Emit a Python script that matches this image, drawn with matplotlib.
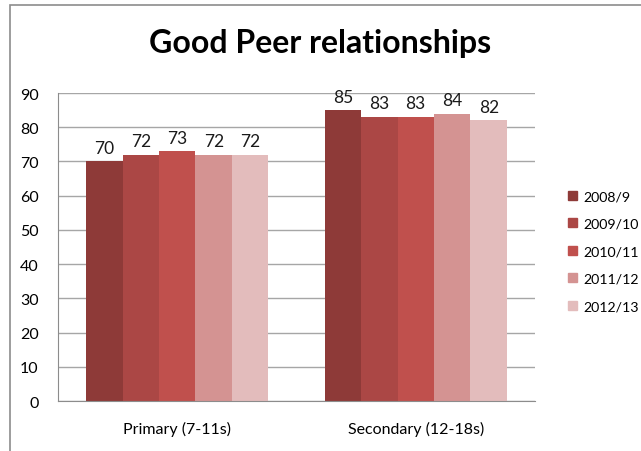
import numpy as np
import matplotlib.pyplot as plt
from matplotlib.patches import Rectangle, Patch

plt.rcParams['font.family'] = ['Lato', 'DejaVu Sans']

categories = ['Primary (7-11s)', 'Secondary (12-18s)']
years = ['2008/9', '2009/10', '2010/11', '2011/12', '2012/13']
values = {
    '2008/9': [70, 85],
    '2009/10': [72, 83],
    '2010/11': [73, 83],
    '2011/12': [72, 84],
    '2012/13': [72, 82],
}
colors = ['#8E3A38', '#AB4745', '#C0504D', '#D49392', '#E3BCBC']

fig = plt.figure(figsize=(6.41, 4.52), dpi=100)
# chart border (only left/top visible in the crop)
fig.patches.append(Rectangle((10 / 641, -0.1), 1.2, 1 - 6 / 452 + 0.1,
                             transform=fig.transFigure, fill=False,
                             edgecolor='#8C8C8C', linewidth=1.2))

ax = fig.add_axes([58 / 641, 1 - 402 / 452, (535 - 58) / 641, (402 - 94) / 452])

x = np.arange(len(categories))
width = 0.153
for i, yr in enumerate(years):
    bars = ax.bar(x + (i - 2) * width, values[yr], width=width, color=colors[i],
                  label=yr, zorder=2)
    for bar in bars:
        h = bar.get_height()
        ax.annotate(f'{h:.0f}', xy=(bar.get_x() + bar.get_width() / 2, h),
                    xytext=(0, 4), textcoords='offset points', ha='center',
                    va='bottom', fontsize=12.5, color='#1a1a1a')

ax.set_xlim(-0.5, 1.5)
ax.set_ylim(0, 90)
ax.set_yticks(range(0, 91, 10))
ax.set_xticks(x)
ax.set_xticklabels(categories)
ax.grid(axis='y', color='#A6A6A6', linewidth=1, zorder=0)
ax.set_axisbelow(True)
for s in ['top', 'right']:
    ax.spines[s].set_visible(False)
ax.spines['left'].set_color('#8C8C8C')
ax.spines['bottom'].set_color('#8C8C8C')
ax.tick_params(axis='y', length=0, pad=14, labelsize=11.5)
ax.tick_params(axis='x', length=0, pad=14, labelsize=11.5)

fig.text(0.5, 1 - 44 / 452, 'Good Peer relationships', ha='center', va='center',
         fontsize=23, fontweight='bold')

handles = [Patch(color=c) for c in colors]
fig.legend(handles, years, loc='upper left', bbox_to_anchor=(561 / 641, 1 - 184 / 452),
           frameon=False, fontsize=10.2, handlelength=0.6, handleheight=0.6,
           handletextpad=0.45, labelspacing=1.1, borderpad=0)

fig.savefig('out.png', dpi=100)
